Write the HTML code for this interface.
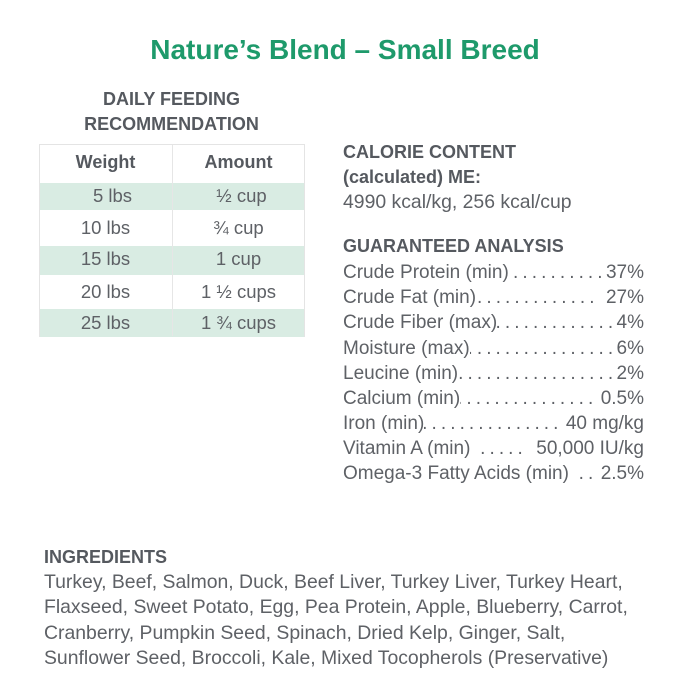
<!DOCTYPE html>
<html>
<head>
<meta charset="utf-8">
<style>
  html,body{margin:0;padding:0;}
  body{width:681px;height:700px;background:#fff;position:relative;overflow:hidden;
       font-family:"Liberation Sans",Arial,sans-serif;color:#5e6166;}
  .t{position:absolute;white-space:nowrap;line-height:25px;height:25px;}
  .b{font-weight:bold;color:#55595f;font-size:18px;}
  .r{font-size:19.4px;}
  .title{position:absolute;left:0;width:690px;top:33px;text-align:center;font-weight:bold;
         font-size:28px;line-height:34px;color:#1e9a6b;white-space:nowrap;}
  .tbl{position:absolute;left:39px;top:144px;width:266px;height:193px;box-sizing:border-box;
       border:1px solid #e4e4e4;}
  .band{position:absolute;left:0;width:264px;background:#d9ece3;}
  .div{position:absolute;left:132px;top:0;width:1px;height:191px;background:#e6e6e6;}
  .c1{position:absolute;left:39px;width:133px;text-align:center;font-size:18.5px;}
  .c2{position:absolute;left:172px;width:133px;text-align:center;font-size:18.5px;}
  .row{position:absolute;left:343px;width:301px;display:flex;font-size:19px;line-height:25px;height:25px;white-space:nowrap;}
  .row .d{flex:1;overflow:hidden;direction:rtl;letter-spacing:-0.6px;padding-right:4px;}
  .row .dl{letter-spacing:-0.6px;padding-left:5px;flex:1;}
</style>
</head>
<body>
<div class="title">Nature’s Blend – Small Breed</div>

<div class="t b" style="left:0;width:343px;text-align:center;top:86.7px;">DAILY FEEDING</div>
<div class="t b" style="left:0;width:343px;text-align:center;top:111.7px;">RECOMMENDATION</div>

<div class="tbl">
  <div class="band" style="top:38px;height:27px;"></div>
  <div class="band" style="top:101px;height:29px;"></div>
  <div class="band" style="top:164px;height:28px;"></div>
  <div class="div"></div>
</div>

<div class="t c1 b" style="top:150.4px;font-size:18px;">Weight</div>
<div class="t c2 b" style="top:150.4px;font-size:18px;">Amount</div>

<div class="t c1" style="top:182.7px;padding-left:14px;box-sizing:border-box;">5 lbs</div>
<div class="t c2" style="top:182.7px;padding-left:6px;box-sizing:border-box;">½ cup</div>
<div class="t c1" style="top:215px;">10 lbs</div>
<div class="t c2" style="top:215px;">¾ cup</div>
<div class="t c1" style="top:246px;">15 lbs</div>
<div class="t c2" style="top:246px;">1 cup</div>
<div class="t c1" style="top:278.7px;">20 lbs</div>
<div class="t c2" style="top:278.7px;">1 ½ cups</div>
<div class="t c1" style="top:310.4px;">25 lbs</div>
<div class="t c2" style="top:310.4px;">1 ¾ cups</div>

<div class="t b" style="left:343px;top:139.7px;">CALORIE CONTENT</div>
<div class="t b" style="left:343px;top:164.7px;">(calculated) ME:</div>
<div class="t r" style="left:343px;top:189.7px;">4990 kcal/kg, 256 kcal/cup</div>

<div class="t b" style="left:343px;top:233.7px;">GUARANTEED ANALYSIS</div>

<div class="row" style="top:260.2px;"><span>Crude Protein (min)</span><span class="d">. . . . . . . . . . . . . . . . . . . . . . . . . . . . .</span><span>37%</span></div>
<div class="row" style="top:285.3px;"><span>Crude Fat (min) </span><span class="d" style="padding-right:12px;">. . . . . . . . . . . . . . . . . . . . . . . . . . . . .</span><span>27%</span></div>
<div class="row" style="top:310.4px;"><span>Crude Fiber (max) </span><span class="d">. . . . . . . . . . . . . . . . . . . . . . . . . . . . .</span><span>4%</span></div>
<div class="row" style="top:335.5px;"><span>Moisture (max)</span><span class="d">. . . . . . . . . . . . . . . . . . . . . . . . . . . . .</span><span>6%</span></div>
<div class="row" style="top:360.6px;"><span>Leucine (min) </span><span class="d">. . . . . . . . . . . . . . . . . . . . . . . . . . . . .</span><span>2%</span></div>
<div class="row" style="top:385.7px;"><span>Calcium (min)</span><span class="d" style="padding-right:8px;">. . . . . . . . . . . . . . . . . . . . . . . . . . . . .</span><span>0.5%</span></div>
<div class="row" style="top:410.8px;"><span>Iron (min)</span><span class="d" style="padding-right:8px;">. . . . . . . . . . . . . . . . . . . . . . . . . . . . .</span><span>40 mg/kg</span></div>
<div class="row" style="top:435.9px;"><span>Vitamin A (min)</span><span class="dl">&nbsp;. . . . .</span><span>50,000 IU/kg</span></div>
<div class="row" style="top:461px;"><span>Omega-3 Fatty Acids (min)</span><span class="dl">&nbsp;. .</span><span>2.5%</span></div>

<div class="t b" style="left:44px;top:544.7px;">INGREDIENTS</div>
<div class="t r" style="left:44px;top:569.9px;">Turkey, Beef, Salmon, Duck, Beef Liver, Turkey Liver, Turkey Heart,</div>
<div class="t r" style="left:44px;top:595.2px;">Flaxseed, Sweet Potato, Egg, Pea Protein, Apple, Blueberry, Carrot,</div>
<div class="t r" style="left:44px;top:620.7px;">Cranberry, Pumpkin Seed, Spinach, Dried Kelp, Ginger, Salt,</div>
<div class="t r" style="left:44px;top:645.7px;">Sunflower Seed, Broccoli, Kale, Mixed Tocopherols (Preservative)</div>
</body>
</html>
